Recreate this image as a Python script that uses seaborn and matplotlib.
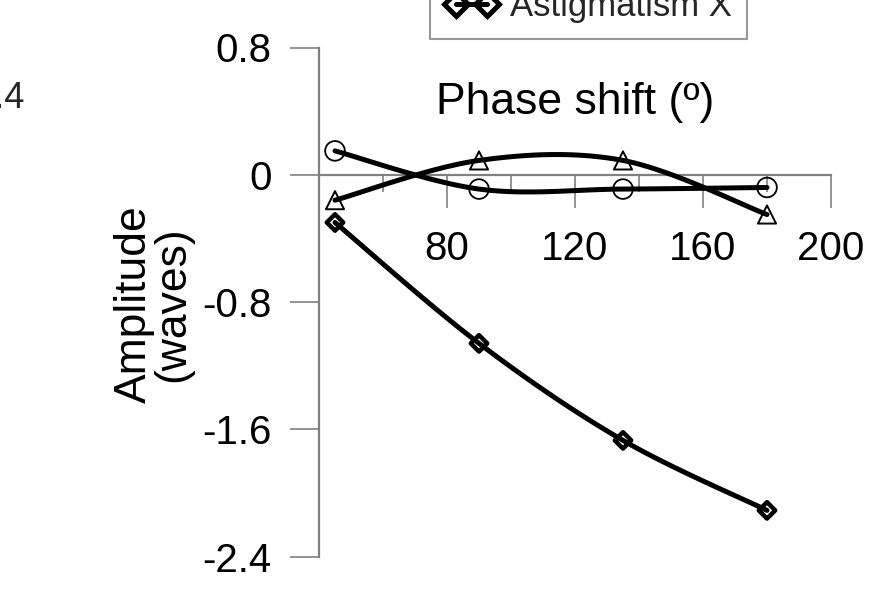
import numpy as np
import pandas as pd
import matplotlib
matplotlib.use("Agg")
import matplotlib.pyplot as plt
from matplotlib.lines import Line2D
from matplotlib.ticker import MultipleLocator, FixedLocator
import seaborn as sns

# Measured amplitudes versus phase shift
phase = [45, 90, 135, 180]
series_circle = [0.15, -0.09, -0.09, -0.08]
series_triangle = [-0.16, 0.09, 0.09, -0.25]
astig_x = [-0.30, -1.06, -1.67, -2.11]
legend_label = "Astigmatism X"
x_ticks = [80, 120, 160, 200]
y_ticks = [0.8, 0, -0.8, -1.6, -2.4]
y_tick_labels = ["0.8", "0", "-0.8", "-1.6", "-2.4"]


def smooth_curve(x, y, n=40):
    """Bezier smoothing through every point (spreadsheet-style smoothed line)."""
    pts = np.column_stack([x, y]).astype(float)
    ext = np.vstack([pts[0], pts, pts[-1]])
    t = np.linspace(0, 1, n)[:, None]
    segs = []
    for i in range(len(pts) - 1):
        p0, p1, p2, p3 = ext[i], ext[i + 1], ext[i + 2], ext[i + 3]
        c1 = p1 + (p2 - p0) / 6.0
        c2 = p2 - (p3 - p1) / 6.0
        seg = ((1 - t) ** 3) * p1 + 3 * ((1 - t) ** 2) * t * c1 \
            + 3 * (1 - t) * (t ** 2) * c2 + (t ** 3) * p2
        segs.append(seg if i == 0 else seg[1:])
    out = np.vstack(segs)
    return pd.DataFrame({"x": out[:, 0], "y": out[:, 1]})


sns.set_theme(style="white")
plt.rcParams["font.family"] = ["Liberation Sans", "DejaVu Sans"]

fig = plt.figure(figsize=(8.91, 6.12), dpi=100)
ax = fig.add_axes([319 / 891, 1 - 556.5 / 612, (831 - 319) / 891, (556.5 - 47.5) / 612])

series = [
    (series_circle, "o", dict(s=200, linewidths=1.3)),
    (series_triangle, "^", dict(s=170, linewidths=1.4)),
    (astig_x, "D", dict(s=70, linewidths=3.2)),
]
for vals, mk, kw in series:
    curve = smooth_curve(phase, vals)
    sns.lineplot(data=curve, x="x", y="y", sort=False, estimator=None,
                 color="black", linewidth=3.6, ax=ax, zorder=3)
    sns.scatterplot(x=phase, y=vals, marker=mk, facecolors="none",
                    edgecolor="black", ax=ax, zorder=4, **kw)

ax.set_xlim(40, 200)
ax.set_ylim(-2.4, 0.8)

# Axis lines: y axis at the left, x axis crossing at zero
for side in ["top", "right"]:
    ax.spines[side].set_visible(False)
ax.spines["left"].set_color("#808080")
ax.spines["left"].set_linewidth(1.6)
ax.spines["bottom"].set_position(("data", 0))
ax.spines["bottom"].set_color("#808080")
ax.spines["bottom"].set_linewidth(1.6)

ax.xaxis.set_major_locator(FixedLocator(x_ticks))
ax.xaxis.set_minor_locator(MultipleLocator(20))
ax.set_xticklabels([str(v) for v in x_ticks])
ax.set_yticks(y_ticks)
ax.set_yticklabels(y_tick_labels)

ax.tick_params(axis="x", which="major", direction="out", length=23.5, width=1.2,
               color="#808080", labelsize=29, pad=16, bottom=True)
ax.tick_params(axis="x", which="minor", direction="out", length=12.5, width=1.2,
               color="#808080", bottom=True)
ax.tick_params(axis="y", which="major", direction="out", length=21, width=1.2,
               color="#808080", labelsize=29, pad=13, left=True)
for lab in ax.get_xticklabels() + ax.get_yticklabels():
    lab.set_color("black")

ax.set_xlabel("Phase shift (º)", fontsize=32, color="black")
ax.xaxis.label.set_va("center")
ax.xaxis.set_label_coords(0.5, 0.891)
ax.set_ylabel("Amplitude\n(waves)", fontsize=32, color="black", linespacing=0.92)
ax.yaxis.set_label_coords(-0.245, 0.495)

# Legend entry for the series drawn with diamonds
handle = Line2D([], [], color="black", linewidth=3.6, marker="D", markersize=12,
                markerfacecolor="none", markeredgewidth=3.6)
leg = fig.legend([handle], [legend_label], loc="lower left",
                 bbox_to_anchor=(430 / 891, 1 - 39 / 612), fontsize=25,
                 frameon=True, fancybox=False, numpoints=2, handlelength=1.5,
                 handletextpad=0.35, borderpad=0.45, borderaxespad=0)
leg.get_frame().set_edgecolor("#808080")
leg.get_frame().set_linewidth(1.5)

# Edge of the neighbouring panel's tick label
fig.text(25 / 891, 1 - 108 / 612, "2.4", fontsize=26, ha="right", va="baseline")

fig.savefig("out.png", dpi=100)
